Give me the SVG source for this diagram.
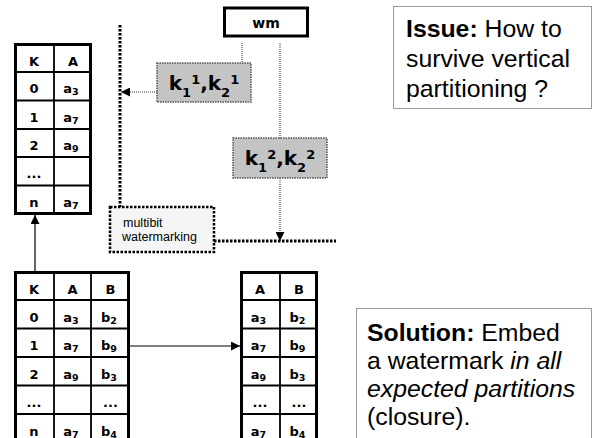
<svg xmlns="http://www.w3.org/2000/svg" width="605" height="438" viewBox="0 0 605 438">
<defs>
<style>
.tbl{fill:#fff;stroke:#000;stroke-width:3}
.grid{stroke:#000;stroke-width:1.8;fill:none}
.tt{font-family:"DejaVu Sans",Verdana,sans-serif;font-weight:bold;font-size:13px;fill:#000;text-anchor:middle}
.sub{font-size:9.5px}
.kbox{fill:#c4c4c4;stroke:#555;stroke-width:1.5;stroke-dasharray:1.5 1}
.kt{font-family:"DejaVu Sans",Verdana,sans-serif;font-weight:bold;font-size:20px;fill:#000;text-anchor:middle}
.ks{font-size:13px}
.thick{stroke:#000;stroke-width:3;stroke-dasharray:2.5 1.5;fill:none}
.thin{stroke:#333;stroke-width:1;stroke-dasharray:1 1;fill:none}
.solid{stroke:#000;stroke-width:1.2;fill:none}
.note{fill:#fff;stroke:#999;stroke-width:1}
.nt{font-family:"Liberation Sans",Arial,sans-serif;font-size:24.8px;fill:#000}
.b{font-weight:bold}
.i{font-style:italic}
</style>
<marker id="ah" viewBox="0 0 10 10" refX="10" refY="5" markerWidth="10" markerHeight="9" markerUnits="userSpaceOnUse" orient="auto">
<path d="M0,0 L10,5 L0,10 Z" fill="#000"/>
</marker>
</defs>
<rect width="605" height="438" fill="#fff"/>

<g id="connectors">
<path class="solid" d="M35,271 V215" marker-end="url(#ah)"/>
<path class="solid" d="M130,346 H240" marker-end="url(#ah)"/>
<path class="thin" d="M242,43 V63"/>
<path class="thin" d="M280,43 V138"/>
<path class="thin" d="M157,92 H121" marker-end="url(#ah)"/>
<path class="thin" d="M280,178 V241" marker-end="url(#ah)"/>
<path class="thick" d="M120,25 V207"/>
<path class="thick" d="M214,241 H336"/>
</g>

<g id="table-ka">
<rect class="tbl" x="15.5" y="44.5" width="75" height="169"/>
<path class="grid" d="M54,44 V213 M16,72 H90 M16,100.5 H90 M16,129 H90 M16,157 H90 M16,185.5 H90"/>
<text class="tt" x="34" y="66">K</text><text class="tt" x="73" y="66">A</text>
<text class="tt" x="34" y="93">0</text><text class="tt" x="71" y="93">a<tspan class="sub" dy="2">3</tspan></text>
<text class="tt" x="34" y="121.5">1</text><text class="tt" x="71" y="121.5">a<tspan class="sub" dy="2">7</tspan></text>
<text class="tt" x="34" y="150">2</text><text class="tt" x="71" y="150">a<tspan class="sub" dy="2">9</tspan></text>
<text class="tt" x="34" y="178">...</text>
<text class="tt" x="34" y="206.5">n</text><text class="tt" x="71" y="206.5">a<tspan class="sub" dy="2">7</tspan></text>
</g>

<g id="table-kab">
<rect class="tbl" x="15.5" y="272.5" width="113" height="172"/>
<path class="grid" d="M54,272 V444 M91,272 V444 M16,300 H128 M16,328.5 H128 M16,357 H128 M16,385.5 H128 M16,414 H128"/>
<text class="tt" x="34" y="294">K</text><text class="tt" x="72.5" y="294">A</text><text class="tt" x="110.5" y="294">B</text>
<text class="tt" x="34" y="321.5">0</text><text class="tt" x="71" y="321.5">a<tspan class="sub" dy="2">3</tspan></text><text class="tt" x="109" y="321.5">b<tspan class="sub" dy="2">2</tspan></text>
<text class="tt" x="34" y="350">1</text><text class="tt" x="71" y="350">a<tspan class="sub" dy="2">7</tspan></text><text class="tt" x="109" y="350">b<tspan class="sub" dy="2">9</tspan></text>
<text class="tt" x="34" y="378.5">2</text><text class="tt" x="71" y="378.5">a<tspan class="sub" dy="2">9</tspan></text><text class="tt" x="109" y="378.5">b<tspan class="sub" dy="2">3</tspan></text>
<text class="tt" x="34" y="407">...</text><text class="tt" x="110.5" y="407">...</text>
<text class="tt" x="34" y="435.5">n</text><text class="tt" x="71" y="435.5">a<tspan class="sub" dy="2">7</tspan></text><text class="tt" x="109" y="435.5">b<tspan class="sub" dy="2">4</tspan></text>
</g>

<g id="table-ab">
<rect class="tbl" x="241.5" y="272.5" width="75" height="172"/>
<path class="grid" d="M280,272 V444 M242,300 H316 M242,328.5 H316 M242,357 H316 M242,385.5 H316 M242,414 H316"/>
<text class="tt" x="260" y="294">A</text><text class="tt" x="299" y="294">B</text>
<text class="tt" x="258.5" y="321.5">a<tspan class="sub" dy="2">3</tspan></text><text class="tt" x="297.5" y="321.5">b<tspan class="sub" dy="2">2</tspan></text>
<text class="tt" x="258.5" y="350">a<tspan class="sub" dy="2">7</tspan></text><text class="tt" x="297.5" y="350">b<tspan class="sub" dy="2">9</tspan></text>
<text class="tt" x="258.5" y="378.5">a<tspan class="sub" dy="2">9</tspan></text><text class="tt" x="297.5" y="378.5">b<tspan class="sub" dy="2">3</tspan></text>
<text class="tt" x="260" y="407">...</text><text class="tt" x="299" y="407">...</text>
<text class="tt" x="258.5" y="435.5">a<tspan class="sub" dy="2">7</tspan></text><text class="tt" x="297.5" y="435.5">b<tspan class="sub" dy="2">4</tspan></text>
</g>

<g id="wm">
<rect x="224.5" y="8" width="83" height="28" fill="#fff" stroke="#000" stroke-width="3"/>
<text class="tt" x="266" y="28" style="font-size:14px">wm</text>
</g>

<g id="k1">
<rect class="kbox" x="157" y="63" width="94" height="39"/>
<text class="kt" x="204" y="90">k<tspan class="ks" dy="7">1</tspan><tspan class="ks" dy="-13">1</tspan><tspan dy="6">,k</tspan><tspan class="ks" dy="7">2</tspan><tspan class="ks" dy="-13">1</tspan></text>
</g>

<g id="k2">
<rect class="kbox" x="233" y="138" width="94" height="40"/>
<text class="kt" x="280" y="165">k<tspan class="ks" dy="7">1</tspan><tspan class="ks" dy="-13">2</tspan><tspan dy="6">,k</tspan><tspan class="ks" dy="7">2</tspan><tspan class="ks" dy="-13">2</tspan></text>
</g>

<g id="multibit">
<rect x="110" y="207" width="104" height="45" fill="#f5f5f5" stroke="#000" stroke-width="2.5" stroke-dasharray="2.5 1.5"/>
<text x="123" y="227" font-family="Liberation Sans, Arial, sans-serif" font-size="12.5">multibit</text>
<text x="122" y="241" font-family="Liberation Sans, Arial, sans-serif" font-size="12.5">watermarking</text>
</g>

<g id="issue">
<rect class="note" x="393.5" y="6.5" width="198" height="102"/>
<text class="nt" x="406" y="37"><tspan class="b">Issue:</tspan> How to</text>
<text class="nt" x="406" y="67">survive vertical</text>
<text class="nt" x="406" y="97">partitioning ?</text>
</g>

<g id="solution">
<rect class="note" x="356.5" y="308.5" width="235" height="140"/>
<text class="nt" x="367" y="341"><tspan class="b">Solution:</tspan> Embed</text>
<text class="nt" x="367" y="369">a watermark <tspan class="i">in all</tspan></text>
<text class="nt" x="367" y="397"><tspan class="i">expected partitions</tspan></text>
<text class="nt" x="367" y="425">(closure).</text>
</g>
</svg>
